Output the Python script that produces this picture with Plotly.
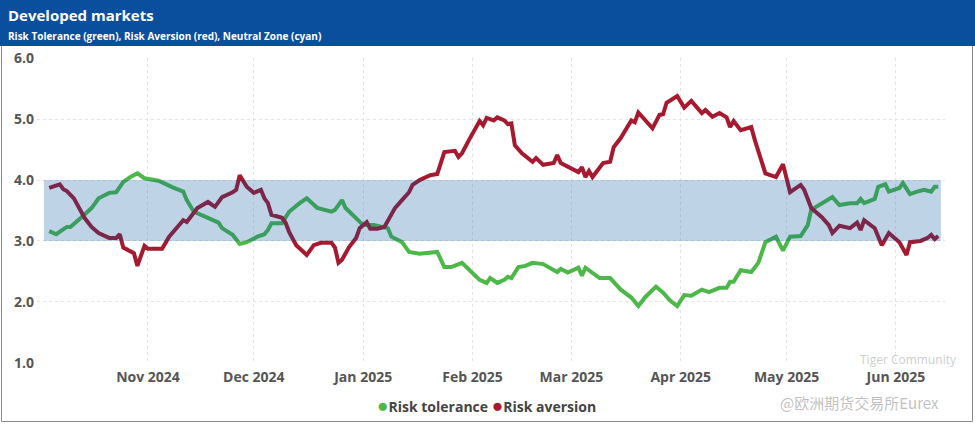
import plotly.graph_objects as go

# ---------------- data ----------------
tol_dates = ["2024-10-04","2024-10-06","2024-10-09","2024-10-10","2024-10-13","2024-10-16","2024-10-18",
    "2024-10-21","2024-10-23","2024-10-25","2024-10-27","2024-10-29","2024-10-31","2024-11-04","2024-11-08",
    "2024-11-11","2024-11-12","2024-11-14","2024-11-18","2024-11-21","2024-11-22","2024-11-25","2024-11-27",
    "2024-11-29","2024-12-02","2024-12-04","2024-12-05","2024-12-06","2024-12-09","2024-12-11","2024-12-14",
    "2024-12-16","2024-12-19","2024-12-23","2024-12-24","2024-12-26","2024-12-27","2024-12-29","2025-01-01",
    "2025-01-04","2025-01-06","2025-01-08","2025-01-09","2025-01-12","2025-01-14","2025-01-17","2025-01-22",
    "2025-01-24","2025-01-26","2025-01-29","2025-02-03","2025-02-05","2025-02-06","2025-02-08","2025-02-10",
    "2025-02-11","2025-02-12","2025-02-14","2025-02-16","2025-02-18","2025-02-21","2025-02-25","2025-02-26",
    "2025-02-28","2025-03-03","2025-03-04","2025-03-05","2025-03-07","2025-03-09","2025-03-12","2025-03-15",
    "2025-03-18","2025-03-19","2025-03-20","2025-03-22","2025-03-25","2025-03-27","2025-03-29","2025-03-31",
    "2025-04-02","2025-04-04","2025-04-07","2025-04-09","2025-04-12","2025-04-14","2025-04-15","2025-04-16",
    "2025-04-18","2025-04-21","2025-04-23","2025-04-25","2025-04-28","2025-04-30","2025-05-02","2025-05-05",
    "2025-05-07","2025-05-08","2025-05-11","2025-05-14","2025-05-16","2025-05-19","2025-05-21","2025-05-22",
    "2025-05-23","2025-05-26","2025-05-27","2025-05-29","2025-05-30","2025-06-02","2025-06-03","2025-06-05",
    "2025-06-07","2025-06-09","2025-06-11","2025-06-12","2025-06-13"]
tol_values = [3.16,3.11,3.23,3.23,3.38,3.54,3.70,
    3.79,3.80,3.97,4.05,4.11,4.03,3.99,3.88,
    3.81,3.67,3.48,3.38,3.30,3.21,3.10,2.95,
    2.98,3.07,3.11,3.18,3.29,3.29,3.48,3.62,
    3.70,3.54,3.48,3.51,3.67,3.54,3.43,3.26,
    3.26,3.23,3.21,3.07,2.98,2.82,2.79,2.82,
    2.57,2.57,2.64,2.36,2.31,2.39,2.31,2.36,
    2.41,2.39,2.57,2.59,2.64,2.62,2.49,2.54,
    2.48,2.56,2.43,2.56,2.48,2.39,2.39,2.20,
    2.07,2.00,1.93,2.08,2.25,2.15,2.02,1.93,
    2.11,2.10,2.20,2.16,2.23,2.23,2.33,2.33,
    2.52,2.49,2.64,2.98,3.07,2.84,3.07,3.08,
    3.26,3.51,3.61,3.72,3.59,3.62,3.62,3.69,
    3.62,3.69,3.89,3.93,3.81,3.87,3.95,3.77,
    3.81,3.84,3.81,3.89,3.89]

avr_dates = ["2024-10-04","2024-10-07","2024-10-08","2024-10-09","2024-10-11","2024-10-14","2024-10-16",
    "2024-10-18","2024-10-21","2024-10-23","2024-10-24","2024-10-25","2024-10-28","2024-10-29","2024-10-31",
    "2024-11-01","2024-11-05","2024-11-07","2024-11-11","2024-11-12","2024-11-15","2024-11-18","2024-11-20",
    "2024-11-22","2024-11-25","2024-11-26","2024-11-27","2024-11-29","2024-12-01","2024-12-03","2024-12-04",
    "2024-12-05","2024-12-06","2024-12-09","2024-12-10","2024-12-11","2024-12-13","2024-12-16","2024-12-18",
    "2024-12-20","2024-12-23","2024-12-24","2024-12-25","2024-12-26","2024-12-28","2024-12-30","2024-12-31",
    "2025-01-02","2025-01-03","2025-01-05","2025-01-07","2025-01-08","2025-01-10","2025-01-12","2025-01-14",
    "2025-01-15","2025-01-17","2025-01-20","2025-01-22","2025-01-24","2025-01-27","2025-01-28","2025-01-29",
    "2025-01-31","2025-02-02","2025-02-03","2025-02-04","2025-02-05","2025-02-07","2025-02-08","2025-02-10",
    "2025-02-11","2025-02-12","2025-02-13","2025-02-15","2025-02-18","2025-02-19","2025-02-21","2025-02-24",
    "2025-02-25","2025-02-26","2025-03-01","2025-03-03","2025-03-04","2025-03-05","2025-03-06","2025-03-07",
    "2025-03-10","2025-03-12","2025-03-13","2025-03-15","2025-03-18","2025-03-19","2025-03-20","2025-03-22",
    "2025-03-24","2025-03-26","2025-03-27","2025-03-28","2025-03-31","2025-04-02","2025-04-04","2025-04-07",
    "2025-04-08","2025-04-10","2025-04-12","2025-04-14","2025-04-15","2025-04-16","2025-04-18","2025-04-21",
    "2025-04-22","2025-04-25","2025-04-28","2025-04-30","2025-05-02","2025-05-05","2025-05-06","2025-05-08",
    "2025-05-11","2025-05-13","2025-05-14","2025-05-16","2025-05-19","2025-05-21","2025-05-22","2025-05-23",
    "2025-05-26","2025-05-28","2025-05-30","2025-06-02","2025-06-04","2025-06-05","2025-06-08","2025-06-10",
    "2025-06-11","2025-06-12","2025-06-13"]
avr_values = [3.87,3.93,3.85,3.82,3.70,3.38,3.23,
    3.13,3.05,3.05,3.11,2.89,2.80,2.59,2.92,
    2.87,2.87,3.07,3.34,3.31,3.54,3.64,3.56,
    3.72,3.80,3.84,4.08,3.89,3.79,3.84,3.70,
    3.62,3.43,3.38,3.30,3.15,2.93,2.77,2.93,
    2.97,2.97,2.89,2.64,2.69,2.90,3.05,3.21,
    3.31,3.20,3.20,3.23,3.34,3.54,3.67,3.80,
    3.92,4.00,4.08,4.10,4.46,4.48,4.38,4.44,
    4.66,4.87,4.97,4.90,5.02,4.98,5.03,4.98,
    4.92,4.93,4.57,4.44,4.30,4.36,4.25,4.28,
    4.41,4.28,4.20,4.13,4.21,4.05,4.15,4.05,
    4.28,4.30,4.54,4.69,4.98,4.95,5.11,4.98,
    4.85,5.07,5.08,5.27,5.38,5.19,5.30,5.10,
    5.15,5.04,5.10,5.03,4.87,4.97,4.82,4.87,
    4.66,4.11,4.05,4.26,3.80,3.92,3.84,3.54,
    3.39,3.26,3.13,3.25,3.21,3.30,3.18,3.34,
    3.21,2.93,3.13,2.98,2.77,2.98,3.00,3.05,
    3.10,3.03,3.08]

neutral_low = 3.0
neutral_high = 4.0
band_start = "2024-10-02T12:00"
band_end = "2025-06-13T18:00"

month_ticks = ["2024-11-01","2024-12-01","2025-01-01","2025-02-01","2025-03-01","2025-04-01","2025-05-01","2025-06-01"]
month_labels = ["Nov 2024","Dec 2024","Jan 2025","Feb 2025","Mar 2025","Apr 2025","May 2025","Jun 2025"]
y_ticks = [1.0, 2.0, 3.0, 4.0, 5.0, 6.0]

title = "Developed markets"
subtitle = "Risk Tolerance (green), Risk Aversion (red), Neutral Zone (cyan)"
series_names = ["Risk tolerance", "Risk aversion"]

GREEN = "#4cb848"
RED = "#a6192e"
FONT = "Open Sans"

# ---------------- figure ----------------
W, H = 975, 424
L, R, T, B = 37, 30, 58, 61
pw, ph = W - L - R, H - T - B

def px_x(p):
    return (p - L) / pw

def px_y(p):
    return (H - B - p) / ph

fig = go.Figure()
fig.add_trace(go.Scatter(x=tol_dates, y=tol_values, mode="lines", name=series_names[0],
                         line=dict(color=GREEN, width=4), showlegend=False, hoverinfo="skip"))
fig.add_trace(go.Scatter(x=avr_dates, y=avr_values, mode="lines", name=series_names[1],
                         line=dict(color=RED, width=4), showlegend=False, hoverinfo="skip"))

shapes = [
    # neutral zone band (drawn above lines, translucent)
    dict(type="rect", xref="x", yref="y", x0=band_start, x1=band_end, y0=neutral_low, y1=neutral_high,
         fillcolor="rgba(0,80,160,0.25)", line=dict(width=0), layer="above"),
    # outer border
    dict(type="rect", xref="paper", yref="paper", x0=px_x(1.5), x1=px_x(972.5), y0=px_y(421.5), y1=px_y(40),
         fillcolor="rgba(0,0,0,0)", line=dict(color="#8a8a8a", width=1), layer="below"),
    # title bar
    dict(type="rect", xref="paper", yref="paper", x0=px_x(0), x1=px_x(975), y0=px_y(46), y1=px_y(0),
         fillcolor="#0a4f9e", line=dict(width=0), layer="above"),
]

legend_html = ("<span style='color:%s;font-size:19px'>●</span><b>%s</b> "
               "<span style='color:%s;font-size:19px'>●</span><b>%s</b>"
               % (GREEN, series_names[0], RED, series_names[1]))

annotations = [
    dict(text="<b>" + title + "</b>", xref="paper", yref="paper", x=px_x(6), y=px_y(15),
         xanchor="left", yanchor="middle", showarrow=False,
         font=dict(family=FONT, size=15, color="white")),
    dict(text="<b>" + subtitle + "</b>", xref="paper", yref="paper", x=px_x(6), y=px_y(36),
         xanchor="left", yanchor="middle", showarrow=False,
         font=dict(family=FONT, size=10, color="white")),
    dict(text=legend_html, xref="paper", yref="paper", x=px_x(486), y=px_y(405),
         xanchor="center", yanchor="middle", showarrow=False,
         font=dict(family=FONT, size=14, color="#444")),
    dict(text="Tiger Community", xref="paper", yref="paper", x=px_x(858), y=px_y(359),
         xanchor="left", yanchor="middle", showarrow=False,
         font=dict(family=FONT, size=12, color="rgba(160,160,160,0.55)")),
    dict(text="@欧洲期货交易所Eurex", xref="paper", yref="paper", x=px_x(778), y=px_y(402),
         xanchor="left", yanchor="middle", showarrow=False,
         font=dict(family="Noto Sans CJK SC", size=15, color="rgba(150,150,150,0.6)")),
]

fig.update_layout(
    width=W, height=H,
    margin=dict(l=L, r=R, t=T, b=B),
    paper_bgcolor="white", plot_bgcolor="white",
    shapes=shapes, annotations=annotations,
    showlegend=False,
    xaxis=dict(type="date", range=["2024-09-30 13:00", "2025-06-14 22:00"],
               tickvals=month_ticks, ticktext=month_labels, showgrid=True,
               gridcolor="#e4e4e4", griddash="dot", gridwidth=1, zeroline=False, showline=False,
               tickfont=dict(family=FONT, size=14, color="#555", weight="bold"), ticks="",
               ticklabelstandoff=4),
    yaxis=dict(range=[0.995, 6.005], tickvals=y_ticks, tickformat=".1f", showgrid=True,
               gridcolor="#e4e4e4", griddash="dot", gridwidth=1, zeroline=False, showline=False,
               tickfont=dict(family=FONT, size=14, color="#555", weight="bold"), ticks="",
               ticklabelstandoff=2),
    hovermode=False,
)

fig.write_html("out.html", config={"displayModeBar": False, "staticPlot": True},
               post_script="document.body.style.margin='0';")
